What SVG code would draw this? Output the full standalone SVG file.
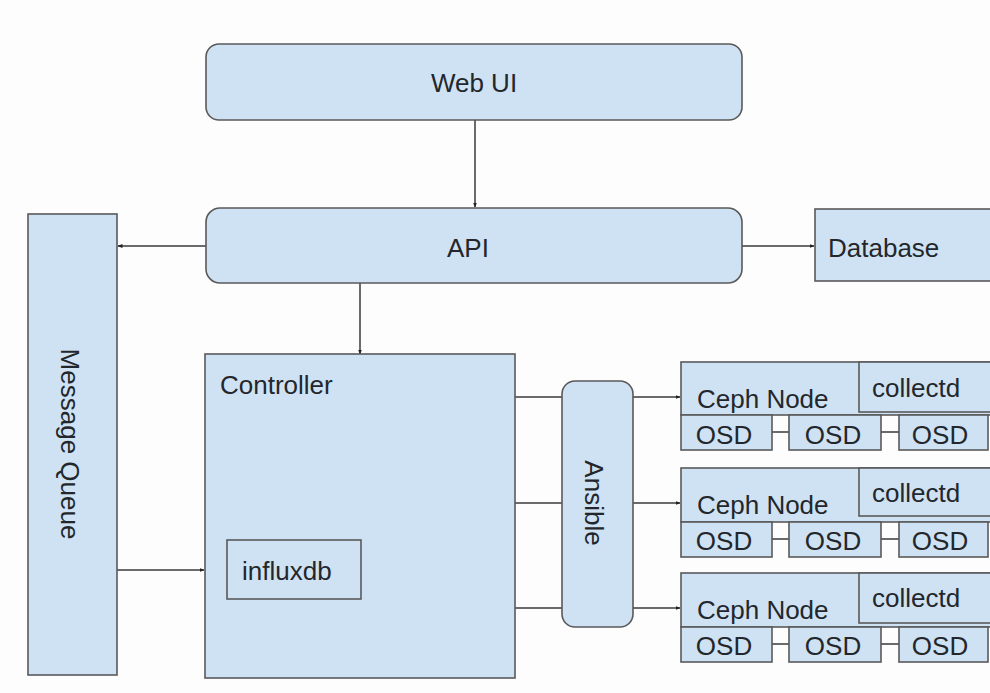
<svg xmlns="http://www.w3.org/2000/svg" width="990" height="693" viewBox="0 0 990 693">
<defs>
<style>
.box{fill:#cfe2f3;stroke:#595959;stroke-width:1.6}
.t{font-family:"Liberation Sans",Arial,sans-serif;font-size:26px;fill:#23272b}
.c{text-anchor:middle}
.ln{stroke:#3a3a3a;stroke-width:1.5;fill:none}
.ar{stroke:#3a3a3a;stroke-width:1.5;fill:none;marker-end:url(#ah)}
</style>
<marker id="ah" viewBox="0 0 10 10" refX="9" refY="5" markerWidth="5" markerHeight="5" orient="auto" markerUnits="userSpaceOnUse">
<path d="M0,1 L10,5 L0,9 Z" fill="#222"/>
</marker>
</defs>
<rect width="990" height="693" fill="#fdfdfd"/>
<g id="connectors">
<path class="ar" d="M475,120 V207"/>
<path class="ar" d="M206,246 H118"/>
<path class="ar" d="M742,246 H814"/>
<path class="ar" d="M360,283 V354"/>
<path class="ar" d="M117,570 H204"/>
<path class="ln" d="M515,397 H562"/>
<path class="ln" d="M515,503 H562"/>
<path class="ln" d="M515,608 H562"/>
<path class="ar" d="M633,397 H680"/>
<path class="ar" d="M633,503 H680"/>
<path class="ar" d="M633,608 H680"/>
<path class="ln" d="M772,432 H789 M881,432 H899"/>
<path class="ln" d="M772,539 H789 M881,539 H899"/>
<path class="ln" d="M772,644 H789 M881,644 H899"/>
</g>
<g id="webui">
<rect class="box" x="206" y="44" width="536" height="76" rx="13"/>
<text class="t c" x="474" y="92">Web UI</text>
</g>
<g id="api">
<rect class="box" x="206" y="208" width="536" height="75" rx="14"/>
<text class="t c" x="468" y="257">API</text>
</g>
<g id="database">
<rect class="box" x="815" y="209" width="190" height="72"/>
<text class="t" x="828" y="257">Database</text>
</g>
<g id="messagequeue">
<rect class="box" x="28" y="214" width="89" height="461"/>
<text class="t c" transform="translate(61,444) rotate(90)" x="0" y="0">Message Queue</text>
</g>
<g id="controller">
<rect class="box" x="205" y="354" width="310" height="324"/>
<text class="t" x="220" y="394">Controller</text>
</g>
<g id="influxdb">
<rect x="227" y="540" width="134" height="59" fill="none" stroke="#595959" stroke-width="1.6"/>
<text class="t" x="242" y="580">influxdb</text>
</g>
<g id="ansible">
<rect class="box" x="562" y="381" width="71" height="246" rx="13"/>
<text class="t c" transform="translate(585,503) rotate(90)" x="0" y="0">Ansible</text>
</g>
<g id="cephnode1">
<rect class="box" x="681" y="362" width="320" height="53"/>
<rect class="box" x="859" y="362" width="142" height="50"/>
<text class="t" x="697" y="408">Ceph Node</text>
<text class="t" x="872" y="397">collectd</text>
<rect class="box" x="681" y="415" width="91" height="35"/>
<rect class="box" x="789" y="415" width="92" height="35"/>
<rect class="box" x="899" y="415" width="89" height="35"/>
<text class="t c" x="724" y="444">OSD</text>
<text class="t c" x="833" y="444">OSD</text>
<text class="t c" x="940" y="444">OSD</text>
</g>
<g id="cephnode2">
<rect class="box" x="681" y="468" width="320" height="54"/>
<rect class="box" x="859" y="468" width="142" height="48"/>
<text class="t" x="697" y="514">Ceph Node</text>
<text class="t" x="872" y="502">collectd</text>
<rect class="box" x="681" y="522" width="91" height="35"/>
<rect class="box" x="789" y="522" width="92" height="35"/>
<rect class="box" x="899" y="522" width="89" height="35"/>
<text class="t c" x="724" y="550">OSD</text>
<text class="t c" x="833" y="550">OSD</text>
<text class="t c" x="940" y="550">OSD</text>
</g>
<g id="cephnode3">
<rect class="box" x="681" y="573" width="320" height="54"/>
<rect class="box" x="859" y="573" width="142" height="50"/>
<text class="t" x="697" y="619">Ceph Node</text>
<text class="t" x="872" y="607">collectd</text>
<rect class="box" x="681" y="627" width="91" height="35"/>
<rect class="box" x="789" y="627" width="92" height="35"/>
<rect class="box" x="899" y="627" width="89" height="35"/>
<text class="t c" x="724" y="655">OSD</text>
<text class="t c" x="833" y="655">OSD</text>
<text class="t c" x="940" y="655">OSD</text>
</g>
</svg>
